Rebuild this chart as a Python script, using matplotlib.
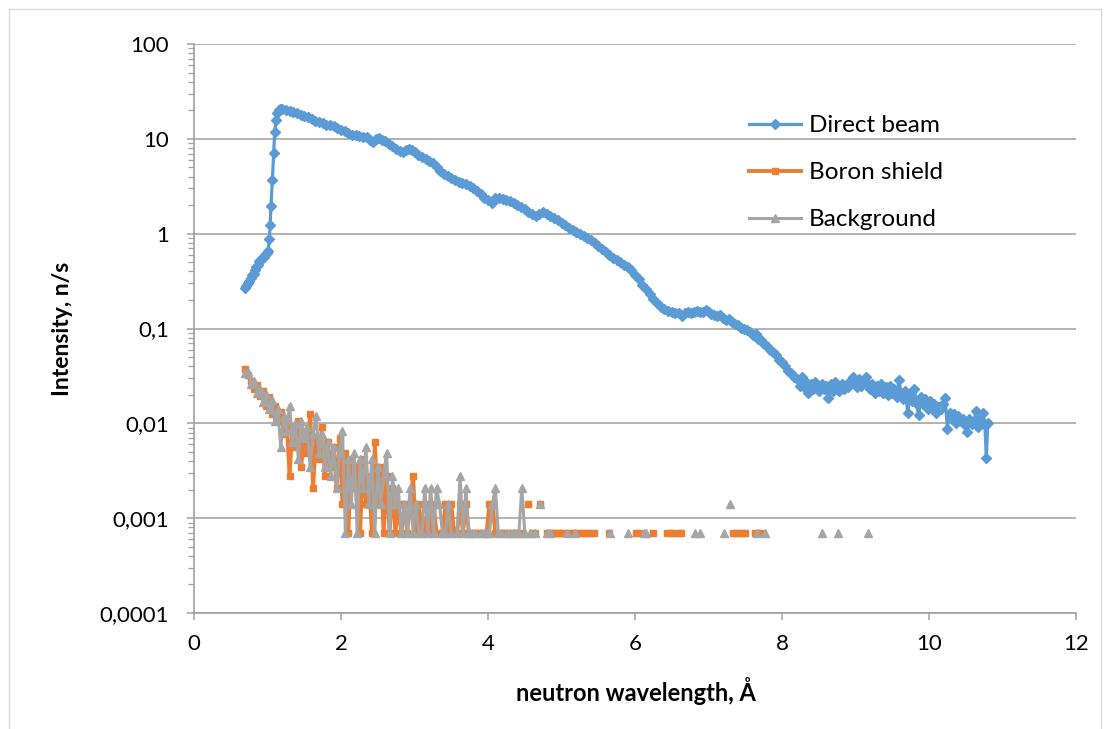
import numpy as np
import matplotlib
matplotlib.use('Agg')
import matplotlib.pyplot as plt
from matplotlib.ticker import FixedLocator, FixedFormatter, LogLocator, NullFormatter
from matplotlib.lines import Line2D

plt.rcParams['font.family'] = ['Lato', 'DejaVu Sans']

# Direct beam: wavelength (A) and intensity (n/s)
beam_wl = [0.69, 0.71, 0.73, 0.75, 0.77, 0.79, 0.81, 0.83, 0.85, 0.87,
           0.89, 0.91, 0.93, 0.95, 0.97, 0.99, 1.01, 1.025, 1.035, 1.048,
           1.066, 1.084, 1.098, 1.116, 1.13, 1.15, 1.17, 1.20, 1.25, 1.30,
           1.35, 1.40, 1.45, 1.50, 1.55, 1.60, 1.65, 1.70, 1.75, 1.80,
           1.85, 1.90, 1.95, 2.00, 2.05, 2.10, 2.15, 2.20, 2.25, 2.30,
           2.35, 2.40, 2.44, 2.48, 2.52, 2.56, 2.60, 2.65, 2.70, 2.75,
           2.80, 2.84, 2.88, 2.92, 2.96, 3.00, 3.05, 3.10, 3.15, 3.20,
           3.25, 3.30, 3.35, 3.40, 3.45, 3.50, 3.55, 3.60, 3.65, 3.70,
           3.75, 3.80, 3.85, 3.90, 3.95, 4.00, 4.05, 4.10, 4.15, 4.20,
           4.25, 4.30, 4.35, 4.40, 4.45, 4.50, 4.55, 4.60, 4.65, 4.70,
           4.75, 4.80, 4.85, 4.90, 4.95, 5.00, 5.05, 5.10, 5.15, 5.20,
           5.25, 5.30, 5.35, 5.40, 5.45, 5.50, 5.55, 5.60, 5.65, 5.70,
           5.75, 5.80, 5.85, 5.90, 5.95, 6.00, 6.05, 6.10, 6.15, 6.20,
           6.25, 6.30, 6.35, 6.40, 6.45, 6.50, 6.55, 6.60, 6.64, 6.68,
           6.72, 6.76, 6.80, 6.84, 6.88, 6.92, 6.96, 7.00, 7.04, 7.08,
           7.12, 7.16, 7.20, 7.24, 7.28, 7.32, 7.36, 7.40, 7.44, 7.48,
           7.52, 7.56, 7.60, 7.64, 7.68, 7.72, 7.76, 7.80, 7.84, 7.88,
           7.92, 7.96, 8.00, 8.04, 8.08, 8.12, 8.16, 8.20, 8.24, 8.27,
           8.30, 8.33, 8.36, 8.39, 8.42, 8.45, 8.48, 8.51, 8.54, 8.57,
           8.60, 8.63, 8.66, 8.69, 8.72, 8.75, 8.78, 8.81, 8.84, 8.87,
           8.90, 8.93, 8.96, 8.99, 9.02, 9.05, 9.08, 9.11, 9.14, 9.17,
           9.20, 9.23, 9.26, 9.29, 9.32, 9.35, 9.38, 9.41, 9.44, 9.47,
           9.50, 9.53, 9.56, 9.59, 9.62, 9.65, 9.68, 9.71, 9.74, 9.77,
           9.80, 9.83, 9.86, 9.89, 9.92, 9.95, 9.98, 10.01, 10.04, 10.07,
           10.10, 10.13, 10.16, 10.19, 10.22, 10.25, 10.28, 10.31, 10.34, 10.37,
           10.40, 10.43, 10.46, 10.49, 10.52, 10.55, 10.58, 10.61, 10.64, 10.67,
           10.70, 10.73, 10.76, 10.78, 10.80]
beam_int = [0.27, 0.28, 0.30, 0.32, 0.34, 0.37, 0.38, 0.41, 0.44, 0.47,
            0.52, 0.53, 0.55, 0.57, 0.59, 0.62, 0.66, 0.87, 1.22, 1.97,
            3.7, 7.1, 11.7, 15.8, 18.9, 20.0, 20.5, 20.4, 20.1, 19.7,
            19.3, 18.6, 17.9, 17.4, 16.8, 16.2, 15.6, 15.1, 14.6, 14.1,
            13.9, 13.7, 13.1, 12.5, 12.0, 11.5, 11.1, 10.9, 10.8, 10.5,
            10.4, 9.8, 9.3, 9.9, 10.1, 9.8, 9.4, 8.9, 8.4, 7.9,
            7.4, 7.3, 7.7, 7.9, 7.6, 7.2, 6.8, 6.5, 6.2, 5.9,
            5.5, 5.0, 4.6, 4.3, 4.1, 3.9, 3.7, 3.5, 3.4, 3.3,
            3.15, 3.0, 2.85, 2.6, 2.4, 2.25, 2.1, 2.35, 2.38, 2.3,
            2.25, 2.2, 2.1, 2.0, 1.9, 1.8, 1.7, 1.6, 1.55, 1.6,
            1.68, 1.6, 1.52, 1.45, 1.38, 1.3, 1.23, 1.15, 1.09, 1.05,
            1.0, 0.95, 0.90, 0.85, 0.79, 0.74, 0.69, 0.64, 0.60, 0.56,
            0.53, 0.50, 0.47, 0.44, 0.41, 0.37, 0.33, 0.29, 0.26, 0.23,
            0.205, 0.185, 0.17, 0.16, 0.153, 0.148, 0.146, 0.145, 0.135, 0.146,
            0.15, 0.147, 0.148, 0.152, 0.148, 0.15, 0.155, 0.148, 0.142, 0.14,
            0.136, 0.138, 0.13, 0.122, 0.125, 0.118, 0.112, 0.108, 0.102, 0.098,
            0.096, 0.092, 0.085, 0.088, 0.078, 0.075, 0.068, 0.066, 0.059, 0.056,
            0.052, 0.047, 0.044, 0.040, 0.036, 0.034, 0.031, 0.029, 0.025, 0.031,
            0.024, 0.027, 0.021, 0.026, 0.023, 0.027, 0.024, 0.022, 0.026, 0.023,
            0.025, 0.0184, 0.026, 0.022, 0.027, 0.024, 0.022, 0.026, 0.023, 0.025,
            0.024, 0.028, 0.031, 0.026, 0.024, 0.029, 0.025, 0.027, 0.031, 0.026,
            0.023, 0.026, 0.021, 0.025, 0.022, 0.026, 0.021, 0.024, 0.020, 0.025,
            0.021, 0.023, 0.019, 0.0284, 0.021, 0.018, 0.022, 0.0128, 0.020, 0.017,
            0.0232, 0.016, 0.0121, 0.019, 0.016, 0.018, 0.014, 0.017, 0.015, 0.016,
            0.013, 0.015, 0.014, 0.016, 0.0184, 0.0088, 0.013, 0.011, 0.0125, 0.010,
            0.012, 0.0105, 0.011, 0.0095, 0.0082, 0.011, 0.0098, 0.0105, 0.0134, 0.0092,
            0.011, 0.013, 0.0095, 0.0043, 0.0100]

# Boron shield and background are counts per bin; one count = 0.0007 n/s
one_count = 0.0007
bin_wl = [0.70, 0.74, 0.78, 0.82, 0.86, 0.90, 0.94, 0.98, 1.02, 1.06,
          1.10, 1.14, 1.18, 1.22, 1.26, 1.30, 1.34, 1.38, 1.42, 1.46,
          1.50, 1.54, 1.58, 1.62, 1.66, 1.70, 1.74, 1.78, 1.82, 1.86,
          1.90, 1.94, 1.98, 2.02, 2.06, 2.10, 2.14, 2.18, 2.22, 2.26,
          2.30, 2.34, 2.38, 2.42, 2.46, 2.50, 2.54, 2.58, 2.62, 2.66,
          2.70, 2.74, 2.78, 2.82, 2.86, 2.90, 2.94, 2.98, 3.02, 3.06,
          3.10, 3.14, 3.18, 3.22, 3.26, 3.30, 3.34, 3.38, 3.42, 3.46,
          3.50, 3.54, 3.58, 3.62, 3.66, 3.70, 3.74, 3.78, 3.82, 3.86,
          3.90, 3.94, 3.98, 4.02, 4.06, 4.10, 4.14, 4.18, 4.22, 4.26,
          4.30, 4.34, 4.38, 4.42, 4.46, 4.50]
boron_counts = [54, 46, 40, 33, 36, 28, 31, 22, 27, 18,
                22, 15, 19, 11, 16, 4, 13, 8, 15, 5,
                12, 7, 18, 3, 10, 6, 13, 4, 9, 5,
                8, 3, 10, 2, 7, 1, 6, 3, 5, 1,
                6, 2, 4, 1, 9, 2, 5, 1, 4, 1,
                3, 1, 2, 1, 2, 1, 2, 4, 1, 2,
                1, 1, 2, 1, 2, 1, 0, 1, 2, 1,
                2, 1, 1, 2, 1, 2, 1, 0, 1, 1,
                1, 0, 1, 2, 2, 1, 0, 1, 1, 1,
                0, 1, 1, 0, 1, 0]
bg_counts = [48, 50, 37, 40, 30, 33, 24, 29, 20, 25,
             15, 20, 8, 17, 12, 22, 9, 14, 6, 15,
             10, 13, 5, 11, 17, 7, 11, 5, 9, 4,
             8, 3, 7, 12, 1, 6, 2, 7, 1, 6,
             3, 8, 2, 6, 1, 5, 2, 4, 7, 1,
             4, 2, 3, 1, 2, 1, 3, 1, 2, 1,
             1, 3, 1, 3, 1, 3, 2, 1, 1, 2,
             1, 0, 1, 4, 1, 3, 1, 1, 1, 0,
             1, 1, 1, 1, 2, 3, 1, 1, 0, 1,
             1, 1, 1, 1, 3, 1]

# sparse long-wavelength tail (0 = no counts, line breaks there)
boron_tail_wl = [4.55, 4.58, 4.60, 4.64, 4.67, 4.71, 4.74, 4.80, 4.84, 4.88,
                 4.91, 4.95, 4.99, 5.02, 5.05, 5.12, 5.16, 5.20, 5.24, 5.28,
                 5.32, 5.36, 5.40, 5.44, 5.47, 5.64, 5.67, 6.02, 6.06, 6.09,
                 6.25, 6.28, 6.43, 6.47, 6.51, 6.55, 6.59, 6.63, 6.66, 7.34,
                 7.38, 7.42, 7.46, 7.50, 7.53, 7.63, 7.67, 7.70]
boron_tail_counts = [2, 0, 1, 1, 0, 2, 0, 1, 1, 1,
                     1, 1, 1, 1, 0, 1, 1, 1, 1, 1,
                     1, 1, 1, 1, 0, 1, 0, 1, 1, 0,
                     1, 0, 1, 1, 1, 0, 1, 1, 0, 1,
                     1, 1, 1, 1, 0, 1, 1, 1]
bg_tail_wl = [4.54, 4.57, 4.61, 4.64, 4.67, 4.71, 4.75, 4.80, 4.84, 4.88,
              5.07, 5.10, 5.18, 5.21, 5.66, 5.69, 5.90, 5.93, 6.12, 6.15,
              6.18, 6.82, 6.85, 6.88, 6.91, 7.21, 7.24, 7.29, 7.32, 7.66,
              7.69, 7.77, 7.80, 8.55, 8.58, 8.76, 8.79, 9.17]
bg_tail_counts = [0, 1, 0, 1, 0, 2, 0, 1, 1, 0,
                  1, 0, 1, 0, 1, 0, 1, 0, 1, 1,
                  0, 1, 0, 1, 0, 1, 0, 2, 0, 1,
                  0, 1, 0, 1, 0, 1, 0, 1]

y_ticks = [1e-4, 1e-3, 1e-2, 1e-1, 1, 10, 100]
y_tick_labels = ['0,0001', '0,001', '0,01', '0,1', '1', '10', '100']
x_ticks = [0, 2, 4, 6, 8, 10, 12]


def to_intensity(counts):
    vals = np.array(counts, dtype=float) * one_count
    vals[vals == 0] = np.nan
    return vals


boron_x = bin_wl + boron_tail_wl
boron_y = np.concatenate([to_intensity(boron_counts), to_intensity(boron_tail_counts)])
bg_x = bin_wl + bg_tail_wl
bg_y = np.concatenate([to_intensity(bg_counts), to_intensity(bg_tail_counts)])

W, H = 1107, 729
fig = plt.figure(figsize=(W / 100, H / 100), dpi=100)
ax = fig.add_axes([194 / W, 1 - 613 / H, 882 / W, 569 / H])

# chart border
border = dict(transform=fig.transFigure, color='#d9d9d9', lw=1)
fig.add_artist(Line2D([8.5 / W, 8.5 / W], [0, 1 - 8.5 / H], **border))
fig.add_artist(Line2D([8.5 / W, 1100.5 / W], [1 - 8.5 / H, 1 - 8.5 / H], **border))
fig.add_artist(Line2D([1100.5 / W, 1100.5 / W], [0, 1 - 8.5 / H], **border))

ax.plot(beam_wl, beam_int, color='#5B9BD5', lw=2.3, marker='D', ms=4.6,
        label='Direct beam', zorder=3)
ax.plot(boron_x, boron_y, color='#ED7D31', lw=2.8, marker='s', ms=4.8,
        label='Boron shield', zorder=4)
ax.plot(bg_x, bg_y, color='#A5A5A5', lw=2.2, marker='^', ms=5.5,
        label='Background', zorder=5)

ax.set_yscale('log')
ax.set_ylim(1e-4, 100)
ax.set_xlim(0, 12)

ax.yaxis.set_major_locator(FixedLocator(y_ticks))
ax.yaxis.set_major_formatter(FixedFormatter(y_tick_labels))
ax.yaxis.set_minor_locator(LogLocator(base=10, subs=np.arange(2, 10), numticks=20))
ax.yaxis.set_minor_formatter(NullFormatter())
ax.xaxis.set_major_locator(FixedLocator(x_ticks))

ax.grid(True, which='major', axis='y', color='#a6a6a6', lw=1.2, zorder=0)
ax.set_axisbelow(True)
for side in ['top', 'right']:
    ax.spines[side].set_visible(False)
for side in ['left', 'bottom']:
    ax.spines[side].set_color('#a0a0a0')
    ax.spines[side].set_linewidth(1.2)

ax.tick_params(axis='both', which='major', direction='out', length=5, width=1.1,
               color='#a0a0a0', labelsize=16, labelcolor='#000000')
ax.tick_params(axis='y', which='minor', direction='out', length=4, width=0.9, color='#a0a0a0')
ax.tick_params(axis='y', which='major', pad=13)
ax.tick_params(axis='x', which='major', pad=10)

ax.set_xlabel('neutron wavelength, Å', fontsize=17, fontweight='bold')
ax.set_ylabel('Intensity, n/s', fontsize=16.5, fontweight='bold')
ax.xaxis.set_label_coords(0.501, -0.112)
ax.yaxis.set_label_coords(-0.137, 0.5)

ax.legend(loc='upper left', bbox_to_anchor=(749 / W, 1 - 115 / H), bbox_transform=fig.transFigure,
          frameon=False, fontsize=17.5, handlelength=2.15, handletextpad=0.3,
          labelspacing=1.07, borderpad=0, borderaxespad=0, numpoints=1)

fig.savefig('out.png', dpi=100)
